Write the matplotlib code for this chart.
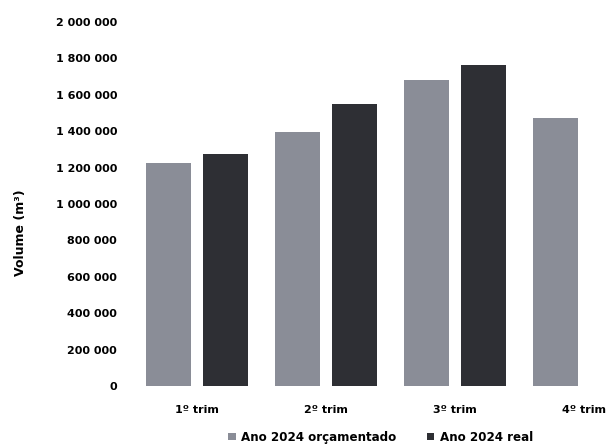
import numpy as np
import matplotlib
matplotlib.use("Agg")
import matplotlib.pyplot as plt
from matplotlib.ticker import FuncFormatter

# Quarterly volumes (m³)
trimestres = ["1º trim", "2º trim", "3º trim", "4º trim"]
orcamentado = [1225000, 1395000, 1680000, 1475000]
real = [1275000, 1548000, 1762000, np.nan]
series_labels = ["Ano 2024 orçamentado", "Ano 2024 real"]
y_ticks = [0, 200000, 400000, 600000, 800000, 1000000,
           1200000, 1400000, 1600000, 1800000, 2000000]

plt.rcParams["font.family"] = ["DejaVu Sans"]
plt.rcParams["font.weight"] = "bold"

fig = plt.figure(figsize=(6.14, 4.46), dpi=100)
ax = fig.add_axes([0.2158, 0.1345, 0.7842, 0.8162])

x = np.arange(len(trimestres))
w = 0.35
off = 0.22
c_orc = "#8a8d97"
c_real = "#2e2f34"

ax.bar(x - off, orcamentado, width=w, color=c_orc, label=series_labels[0])
ax.bar(x + off, real, width=w, color=c_real, label=series_labels[1])

ax.set_ylim(0, 2000000)
ax.set_xlim(-0.5, 3.233)
ax.set_yticks(y_ticks)
ax.yaxis.set_major_formatter(FuncFormatter(lambda v, p: f"{v:,.0f}".replace(",", " ")))
ax.set_xticks(x)
ax.set_xticklabels(trimestres)

for s in ax.spines.values():
    s.set_visible(False)
ax.tick_params(axis="y", length=0, pad=11, labelsize=8)
ax.tick_params(axis="x", length=0, pad=14, labelsize=8)
for t in ax.get_yticklabels() + ax.get_xticklabels():
    t.set_fontweight("bold")

ax.set_ylabel("Volume (m³)", fontsize=9, fontweight="bold")
ax.yaxis.set_label_coords(-0.22, 0.42)

leg = fig.legend(loc="center", bbox_to_anchor=(0.62, 0.02), ncol=2, frameon=False,
                 handlelength=0.6, handleheight=0.6, columnspacing=2.5,
                 handletextpad=0.5, prop={"weight": "bold", "size": 8.6})

fig.savefig("out.png", dpi=100, facecolor="white")
